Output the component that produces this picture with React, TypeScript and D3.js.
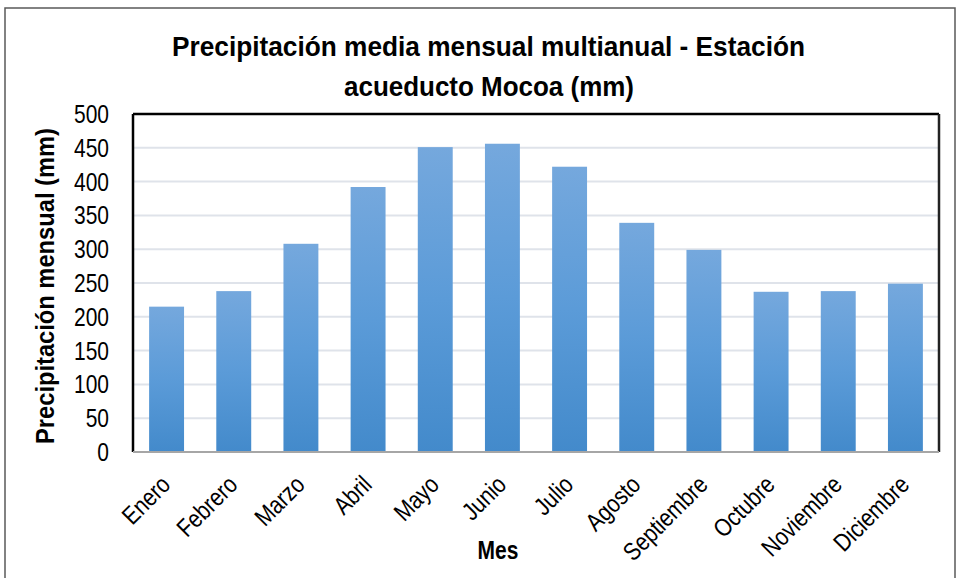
import React from 'react';
import * as d3 from 'd3';

// datos
const months = ['Enero', 'Febrero', 'Marzo', 'Abril', 'Mayo', 'Junio', 'Julio', 'Agosto', 'Septiembre', 'Octubre', 'Noviembre', 'Diciembre'];
const precip = [215, 238, 308, 392, 451, 456, 422, 339, 299, 237, 238, 249];
const yTicks = [0, 50, 100, 150, 200, 250, 300, 350, 400, 450, 500];

const font = '"Liberation Sans", Arial, sans-serif';
const NARROW = 0.84; // imita Arial Narrow

// texto estrechado horizontalmente
const NText = ({ x, y, rotate = 0, children, ...rest }: any) => (
  <g transform={`translate(${x},${y}) rotate(${rotate}) scale(${NARROW},1)`}>
    <text {...rest}>{children}</text>
  </g>
);

const App = () => {
  const width = 960, height = 578;
  const margin = { top: 114, right: 21, bottom: 126, left: 133 };
  const innerW = width - margin.left - margin.right;
  const innerH = height - margin.top - margin.bottom;

  const x = d3.scaleBand<string>().domain(months).range([0, innerW]).paddingInner(0.48).paddingOuter(0.24);
  const y = d3.scaleLinear().domain([0, 500]).range([innerH, 0]);

  return (
    <svg width={width} height={height} style={{ position: 'absolute', left: 0, top: 0, fontFamily: font }}>
      <defs>
        <linearGradient id="barGrad" x1="0" y1="0" x2="0" y2="1">
          <stop offset="0%" stopColor="#75a8dd" />
          <stop offset="50%" stopColor="#5b9bd8" />
          <stop offset="100%" stopColor="#438acb" />
        </linearGradient>
      </defs>
      <rect x={5} y={8} width={950} height={580} fill="#fff" stroke="#595959" strokeWidth={1.5} />

      <text x={488.5} y={56} textAnchor="middle" fontSize={27} fontWeight="bold" fill="#000"
        textLength={633} lengthAdjust="spacingAndGlyphs">
        Precipitación media mensual multianual - Estación
      </text>
      <text x={489} y={96} textAnchor="middle" fontSize={27} fontWeight="bold" fill="#000"
        textLength={290} lengthAdjust="spacingAndGlyphs">
        acueducto Mocoa (mm)
      </text>

      <g transform={`translate(${margin.left},${margin.top})`}>
        {yTicks.map(t => (
          <g key={t}>
            {t > 0 && t < 500 && (
              <line x1={0} x2={innerW} y1={y(t)} y2={y(t)} stroke="#dfe3ea" strokeWidth={2} />
            )}
            <NText x={-24} y={y(t)} dy="0.36em" textAnchor="end" fontSize={25} fill="#000">{t}</NText>
          </g>
        ))}

        {months.map((m, i) => (
          <rect key={m} x={x(m)} y={y(precip[i])} width={x.bandwidth()} height={innerH - y(precip[i])} fill="url(#barGrad)" />
        ))}

        <line x1={0} x2={innerW} y1={0} y2={0} stroke="#000" strokeWidth={2.5} />
        <line x1={0} x2={0} y1={0} y2={innerH} stroke="#000" strokeWidth={2.5} />
        <line x1={innerW} x2={innerW} y1={0} y2={innerH} stroke="#222" strokeWidth={2.5} />
        <line x1={0} x2={innerW} y1={innerH} y2={innerH} stroke="#a6a6a6" strokeWidth={2} />

        {months.map(m => {
          const cx = (x(m) as number) + x.bandwidth() / 2 - 8;
          return (
            <NText key={m} x={cx} y={innerH + 21} rotate={-45} textAnchor="end" dy="0.75em" fontSize={25} fill="#000">
              {m}
            </NText>
          );
        })}

        <NText x={innerW / 2 - 38} y={innerH + 107} textAnchor="middle" fontSize={25} fontWeight="bold" fill="#000">Mes</NText>
        <g transform={`translate(${-79},${innerH / 2 + 3}) rotate(-90)`}>
          <text textAnchor="middle" fontSize={25} fontWeight="bold" fill="#000" textLength={316} lengthAdjust="spacingAndGlyphs">
            Precipitación mensual (mm)
          </text>
        </g>
      </g>
    </svg>
  );
};

export default App;
